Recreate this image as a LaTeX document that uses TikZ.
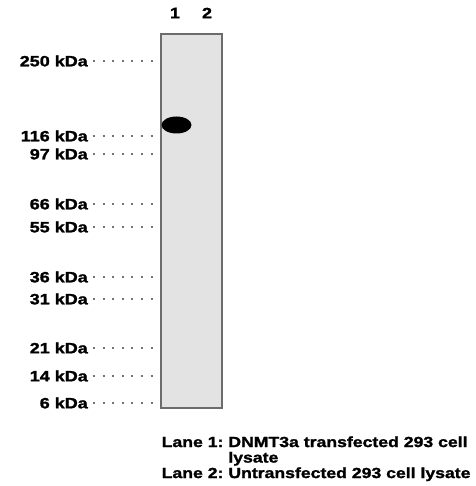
\documentclass[tikz,border=0pt]{standalone}
\usepackage{fontspec}
\setmainfont[FakeStretch=1.2, FakeBold=1.5]{Liberation Sans}
\usetikzlibrary{shapes.geometric}
\tikzset{
  every node/.style={font=\fontsize{15}{15.5}\selectfont\bfseries, inner sep=0pt},
  marker/.style={anchor=east},
  ladder/.style={draw=black!55, line width=2pt, dash pattern=on 2pt off 7.6pt},
}

\begin{document}
\begin{tikzpicture}[x=1pt, y=-1pt]
\useasboundingbox (0,0) rectangle (475,486);
% Gel
    \node[draw=gray!85!black, line width=1.3pt, fill=gray!22, minimum width=61pt,
          minimum height=374pt] (gel) at (191.5,221) {};
    \node[ellipse, fill=black, minimum width=30pt, minimum height=17pt] (band) at (176.5,125) {};
% Lanes
    \node (lane1) at (175,13) {1};
    \node (lane2) at (207,13) {2};
% Markers
    \foreach \kda/\y in {250/61, 116/136, 97/154, 66/204, 55/227, 36/277, 31/299, 21/348, 14/376, 6/403} {
        \node[marker] (m\kda) at (88,\y) {\kda\ kDa};
        \draw[ladder] ([xshift=5pt]m\kda.east) -- ([xshift=-2pt]gel.west |- m\kda.east);
    }
% Legend
    \node[anchor=north west, align=left, font=\fontsize{14.7}{15.5}\selectfont\bfseries]
        (legend) at (161.5,436) {%
        \begin{tabular}{@{}l@{\ }l@{}}
        Lane 1: & DNMT3a transfected 293 cell\\
                & lysate\\
        Lane 2: & Untransfected 293 cell lysate
        \end{tabular}};
\end{tikzpicture}
\end{document}
